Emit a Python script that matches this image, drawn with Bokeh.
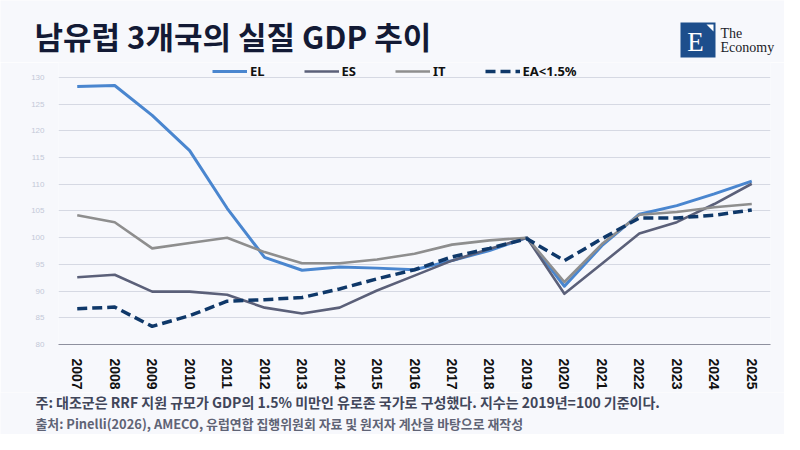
from bokeh.plotting import figure
from bokeh.layouts import column
from bokeh.models import Range1d, FixedTicker, Label, Legend, LegendItem, ColumnDataSource
from bokeh.embed import file_html
from bokeh.resources import INLINE

# ---- data ----
years = [str(y) for y in range(2007, 2026)]
EL = [128.3, 128.5, 122.9, 116.3, 105.5, 96.3, 93.9, 94.5, 94.3, 94.0,
      95.7, 97.6, 100.0, 90.9, 98.5, 104.4, 106.0, 108.2, 110.6]
ES = [92.6, 93.05, 89.9, 89.9, 89.3, 86.9, 85.8, 86.9, 90.1, 92.9,
      95.7, 97.9, 100.0, 89.5, 95.1, 100.8, 102.9, 106.3, 110.1]
IT = [104.2, 102.9, 98.0, 99.0, 100.0, 97.3, 95.2, 95.2, 95.9, 97.0,
      98.7, 99.5, 100.0, 91.7, 98.8, 104.3, 104.8, 105.7, 106.3]
EA = [86.7, 87.0, 83.4, 85.4, 88.1, 88.4, 88.8, 90.4, 92.3, 94.0,
      96.4, 98.0, 99.8, 95.7, 99.8, 103.7, 103.7, 104.2, 105.2]
series_names = ["EL", "ES", "IT", "EA<1.5%"]
y_ticks = [80, 85, 90, 95, 100, 105, 110, 115, 120, 125, 130]

title_text = "남유럽 3개국의 실질 GDP 추이"
note_text = "주: 대조군은 RRF 지원 규모가 GDP의 1.5% 미만인 유로존 국가로 구성했다. 지수는 2019년=100 기준이다."
source_text = "출처: Pinelli(2026), AMECO, 유럽연합 집행위원회 자료 및 원저자 계산을 바탕으로 재작성"

BG = "#f7f8fc"
KR = "Noto Sans CJK KR"
W = 784


def blank(h, top):
    # y data coordinate == pixel row of the whole picture
    f = figure(width=W, height=h, x_range=Range1d(0, W), y_range=Range1d(top + h, top),
               output_backend="svg", toolbar_location=None,
               x_axis_type=None, y_axis_type=None, frame_align=False,
               min_border=0, min_border_left=0, min_border_right=0,
               min_border_top=0, min_border_bottom=0,
               background_fill_color=BG, border_fill_color=BG, outline_line_color=None)
    f.xgrid.grid_line_color = None
    f.ygrid.grid_line_color = None
    return f


# ---- header: title + logo ----
head = blank(62, 0)
head.add_layout(Label(x=34, y=35, text=title_text, text_font=KR, text_font_style="bold",
                      text_font_size="31px", text_color="#131a35", text_baseline="middle"))
head.quad(left=680, right=715, top=22, bottom=57, fill_color="#1d4e8c", line_color=None)
head.patch([706, 713, 713], [24, 24, 31], fill_color="white", line_color=None)
head.add_layout(Label(x=695, y=41, text="E", text_font="Liberation Serif",
                      text_font_size="27px", text_color="white",
                      text_align="center", text_baseline="middle"))
head.add_layout(Label(x=720, y=33, text="The", text_font="Liberation Serif",
                      text_font_size="14px", text_color="#1c1c28", text_baseline="middle"))
head.add_layout(Label(x=720, y=47, text="Economy", text_font="Liberation Serif",
                      text_font_size="14px", text_color="#1c1c28", text_baseline="middle"))

# ---- main chart ----
src = ColumnDataSource(dict(year=years, EL=EL, ES=ES, IT=IT, EA=EA))
p = figure(width=W, height=330, x_range=years, y_range=Range1d(80, 132.8),
           output_backend="svg", toolbar_location=None, frame_align=False,
           min_border_left=58, min_border_right=14, min_border_top=0, min_border_bottom=48,
           background_fill_color=BG, border_fill_color=BG, outline_line_color=None)

p.xgrid.grid_line_color = None
p.ygrid.grid_line_color = "#d6d9e3"
p.ygrid.grid_line_width = 1
p.yaxis.ticker = FixedTicker(ticks=y_ticks)
p.yaxis.axis_line_color = None
p.yaxis.major_tick_line_color = None
p.yaxis.minor_tick_line_color = None
p.yaxis.major_label_text_font = "Liberation Sans"
p.yaxis.major_label_text_font_size = "8px"
p.yaxis.major_label_text_color = "#c3c8d8"
p.yaxis.major_label_standoff = 8

p.xaxis.axis_line_color = "#8e909e"
p.xaxis.axis_line_width = 1.2
p.xaxis.major_tick_line_color = None
p.xaxis.minor_tick_line_color = None
p.xaxis.major_label_orientation = "vertical"
p.xaxis.major_label_text_font = "Liberation Sans"
p.xaxis.major_label_text_font_style = "bold"
p.xaxis.major_label_text_font_size = "14px"
p.xaxis.major_label_text_color = "#111111"
p.xaxis.major_label_standoff = 8

r_el = p.line("year", "EL", source=src, line_color="#4a86cf", line_width=3, line_join="round")
r_es = p.line("year", "ES", source=src, line_color="#5b6079", line_width=2.6, line_join="round")
r_it = p.line("year", "IT", source=src, line_color="#8e8e8e", line_width=2.6, line_join="round")
r_ea = p.line("year", "EA", source=src, line_color="#0f3869", line_width=3.5,
              line_dash="10 5", line_join="round")

legend = Legend(items=[LegendItem(label=series_names[0], renderers=[r_el]),
                       LegendItem(label=series_names[1], renderers=[r_es]),
                       LegendItem(label=series_names[2], renderers=[r_it]),
                       LegendItem(label=series_names[3], renderers=[r_ea])],
                orientation="horizontal", location=(154, 264),
                glyph_width=35, glyph_height=18, label_height=18, label_width=0,
                label_standoff=3, spacing=39, padding=0, margin=0,
                border_line_color=None, background_fill_alpha=0,
                label_text_font="Noto Sans", label_text_font_style="bold",
                label_text_font_size="13px", label_text_color="#111111")
p.add_layout(legend)

# ---- footer: notes ----
foot = blank(42, 392)
foot.add_layout(Label(x=35, y=401, text=note_text, text_font=KR, text_font_style="bold",
                      text_font_size="14px", text_color="#41465a", text_baseline="middle"))
foot.add_layout(Label(x=35, y=423, text=source_text, text_font=KR, text_font_style="bold",
                      text_font_size="12.9px", text_color="#5f6375", text_baseline="middle"))

page = column(head, p, foot, spacing=0)
open("out.html", "w").write(file_html(page, INLINE))
